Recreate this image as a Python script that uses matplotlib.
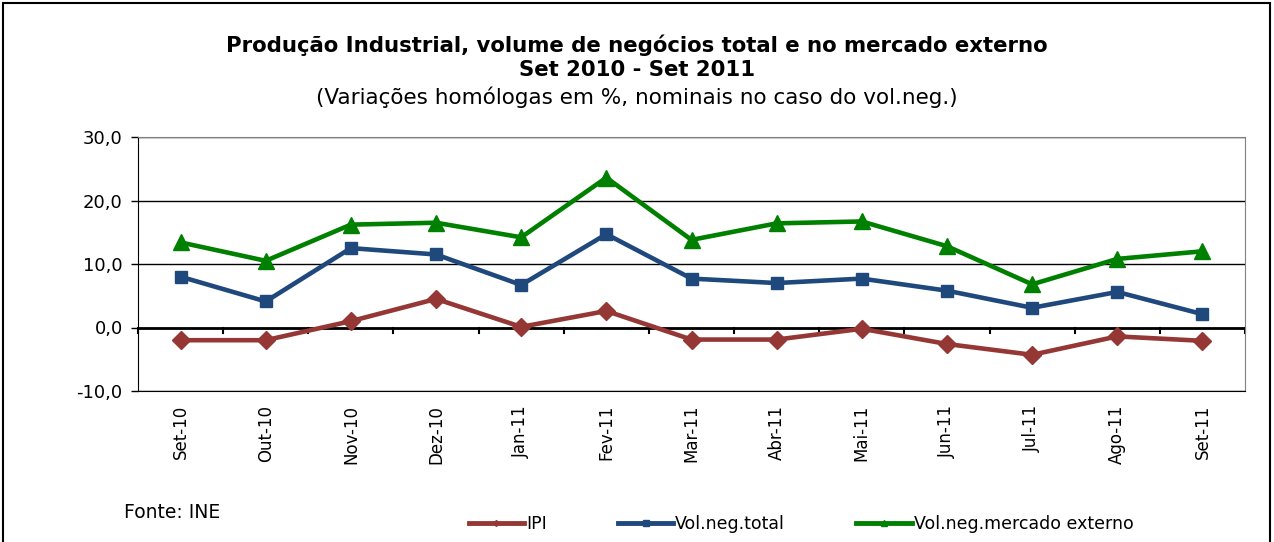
import matplotlib.pyplot as plt
from matplotlib.patches import Rectangle
from matplotlib.lines import Line2D
import numpy as np

# dados
meses = ['Set-10', 'Out-10', 'Nov-10', 'Dez-10', 'Jan-11', 'Fev-11', 'Mar-11',
         'Abr-11', 'Mai-11', 'Jun-11', 'Jul-11', 'Ago-11', 'Set-11']
ipi = [-2.0, -2.0, 1.0, 4.5, 0.1, 2.6, -1.9, -1.9, -0.2, -2.6, -4.3, -1.4, -2.1]
vol_total = [8.0, 4.1, 12.5, 11.5, 6.7, 14.7, 7.7, 7.0, 7.7, 5.8, 3.1, 5.6, 2.1]
vol_externo = [13.4, 10.5, 16.2, 16.5, 14.2, 23.6, 13.8, 16.4, 16.7, 12.8, 6.8, 10.8, 12.0]
yticks = [-10, 0, 10, 20, 30]

cor_ipi = '#953735'
cor_total = '#1F497D'
cor_ext = '#008000'

fig = plt.figure(figsize=(12.74, 5.42), dpi=100)
fig.patches.append(Rectangle((0.002, -0.01), 0.995, 1.005, transform=fig.transFigure,
                             fill=False, edgecolor='black', linewidth=1.5))

ax = fig.add_axes([138 / 1274, 1 - 391 / 542, (1245 - 138) / 1274, (391 - 137) / 542])
x = np.arange(len(meses))

ax.plot(x, ipi, color=cor_ipi, lw=3.3, marker='D', ms=9, zorder=3)
ax.plot(x, vol_total, color=cor_total, lw=3.3, marker='s', ms=9, zorder=3)
ax.plot(x, vol_externo, color=cor_ext, lw=3.3, marker='^', ms=12, zorder=3)

ax.set_xlim(-0.5, len(meses) - 0.5)
ax.set_ylim(-10, 30)
ax.set_yticks(yticks)
ax.set_yticklabels([f'{v:.1f}'.replace('.', ',') for v in yticks], fontsize=13)
ax.yaxis.grid(True, color='black', lw=1)
ax.set_axisbelow(True)
ax.tick_params(axis='y', direction='out', length=5, width=1, pad=6)

# eixo x na linha do zero, rótulos em baixo
ax.axhline(0, color='black', lw=2, zorder=2)
for b in np.arange(-0.5, len(meses)):
    ax.plot([b, b], [0, -0.9], color='black', lw=1.5, zorder=2, clip_on=False)
ax.set_xticks(x)
ax.set_xticklabels(meses, rotation=90, fontsize=12)
ax.tick_params(axis='x', length=0, pad=10)

for s in ['top', 'right']:
    ax.spines[s].set_color('#808080')
ax.spines['left'].set_color('black')
ax.spines['bottom'].set_color('black')

fig.text(0.5, 1 - 45 / 542, 'Produção Industrial, volume de negócios total e no mercado externo',
         ha='center', va='center', fontsize=15.3, fontweight='bold')
fig.text(0.5, 1 - 70 / 542, 'Set 2010 - Set 2011', ha='center', va='center',
         fontsize=15.3, fontweight='bold')
fig.text(0.5, 1 - 97 / 542, '(Variações homólogas em %, nominais no caso do vol.neg.)',
         ha='center', va='center', fontsize=15.5)
fig.text(124 / 1274, 1 - 512 / 542, 'Fonte: INE', ha='left', va='center', fontsize=13.5)

handles = [
    Line2D([], [], color=cor_ipi, lw=3.5, marker='D', ms=3),
    Line2D([], [], color=cor_total, lw=3.5, marker='s', ms=4),
    Line2D([], [], color=cor_ext, lw=3.5, marker='^', ms=4),
]
fig.legend(handles, ['IPI', 'Vol.neg.total', 'Vol.neg.mercado externo'],
           loc='center', bbox_to_anchor=(801 / 1274, 1 - 524 / 542), ncol=3,
           frameon=False, fontsize=12.5, handlelength=3.2, handletextpad=0.1,
           columnspacing=4.1)

fig.savefig('out.png', dpi=100)
